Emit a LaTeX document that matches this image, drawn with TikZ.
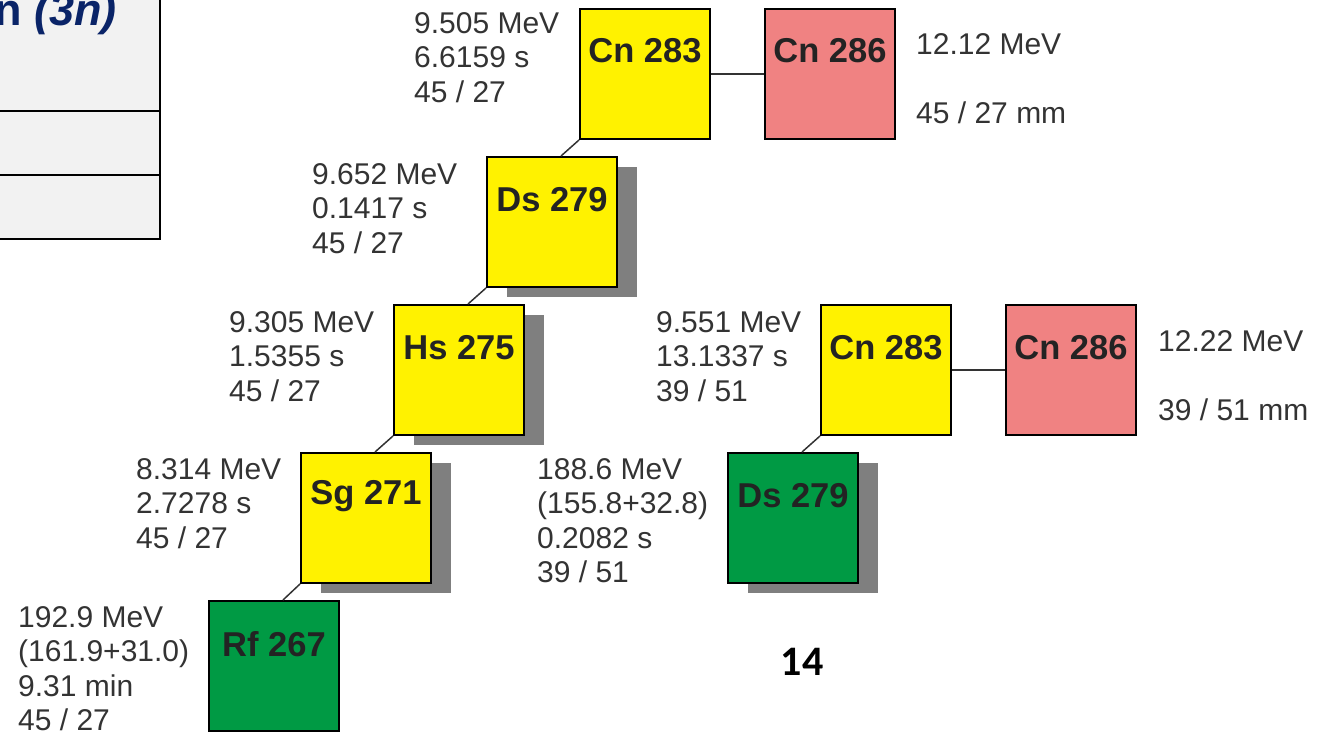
\documentclass[tikz,border=0pt]{standalone}
\usepackage{fontspec}
\setmainfont{Liberation Sans}
\newfontfamily\carl{Carlito}
\usetikzlibrary{shadows}
\definecolor{yel}{HTML}{FFF200}
\definecolor{pinkc}{HTML}{F08282}
\definecolor{greenc}{HTML}{009A44}
\definecolor{shadowc}{HTML}{7F7F7F}
\definecolor{txtc}{HTML}{333333}
\definecolor{lblc}{HTML}{232323}
\definecolor{navy}{HTML}{0A2468}
\definecolor{tablefill}{HTML}{F2F2F2}
\tikzset{
  nucbox/.style={draw=black, line width=2pt, minimum size=130pt, inner sep=0pt},
  shad/.style={drop shadow={shadow xshift=20pt, shadow yshift=-10pt, fill=shadowc, opacity=1}},
  lbl/.style={font=\fontsize{34.5}{38}\selectfont\bfseries, text=lblc, inner sep=0pt},
  info/.style={font=\fontsize{30}{34.5}\selectfont, text=txtc, align=left, anchor=north west, inner sep=0pt},
  conn/.style={draw=txtc, line width=1.5pt}
}
\begin{document}
\begin{tikzpicture}[x=1pt,y=-1pt]
\useasboundingbox (0,0) rectangle (1323,734);
\clip (0,0) rectangle (1323,734);
% table fragment
\fill[tablefill] (-10,-10) rectangle (160,239);
\draw[line width=2.5pt] (-10,239) -- (160,239) -- (160,-10);
\draw[line width=2pt] (-10,111) -- (160,111);
\draw[line width=2pt] (-10,175) -- (160,175);
\node[anchor=base east, inner sep=0pt, text=navy, font=\fontsize{45}{48}\selectfont\bfseries] (title) at (117,25) {n \textit{(3n)}};
% boxes
\node[nucbox, fill=yel] (cnA) at (645,74) {};
\node[nucbox, fill=pinkc] (cnB) at (830,74) {};
\node[nucbox, fill=yel, shad] (ds) at (552,222) {};
\node[nucbox, fill=yel, shad] (hs) at (459,370) {};
\node[nucbox, fill=yel, shad] (sg) at (366,518) {};
\node[nucbox, fill=greenc] (rf) at (274,666) {};
\node[nucbox, fill=yel] (cnC) at (886,370) {};
\node[nucbox, fill=pinkc] (cnD) at (1071,370) {};
\node[nucbox, fill=greenc, shad] (dsg) at (793,518) {};
% box labels
\node[lbl] (lcnA) at ([yshift=-43pt]cnA.north) {Cn 283};
\node[lbl] (lcnB) at ([yshift=-43pt]cnB.north) {Cn 286};
\node[lbl] (lds) at ([yshift=-44pt]ds.north) {Ds 279};
\node[lbl] (lhs) at ([yshift=-44pt]hs.north) {Hs 275};
\node[lbl] (lsg) at ([yshift=-44pt]sg.north) {Sg 271};
\node[lbl] (lrf) at ([yshift=-44pt]rf.north) {Rf 267};
\node[lbl] (lcnC) at ([yshift=-44pt]cnC.north) {Cn 283};
\node[lbl] (lcnD) at ([yshift=-44pt]cnD.north) {Cn 286};
\node[lbl] (ldsg) at ([yshift=-44pt]dsg.north) {Ds 279};
% connectors
\draw[conn] (cnA.east) -- (cnB.west);
\draw[conn] (cnC.east) -- (cnD.west);
\draw[conn] (cnA.south west) -- ([xshift=75pt]ds.north west);
\draw[conn] (ds.south west) -- ([xshift=75pt]hs.north west);
\draw[conn] (hs.south west) -- ([xshift=75pt]sg.north west);
\draw[conn] (sg.south west) -- ([xshift=75pt]rf.north west);
\draw[conn] (cnC.south west) -- ([xshift=75pt]dsg.north west);
% info texts
\node[info] (icnA) at (414,12) {9.505 MeV\\6.6159 s\\45 / 27};
\node[info] (icnB) at (916,33) {12.12 MeV\\[34.5pt]45 / 27 mm};
\node[info] (ids) at (312,163) {9.652 MeV\\0.1417 s\\45 / 27};
\node[info] (ihs) at (229,311) {9.305 MeV\\1.5355 s\\45 / 27};
\node[info] (isg) at (136,458) {8.314 MeV\\2.7278 s\\45 / 27};
\node[info] (irf) at (18,606) {192.9 MeV\\(161.9+31.0)\\9.31 min\\45 / 27};
\node[info] (icnC) at (656,311) {9.551 MeV\\13.1337 s\\39 / 51};
\node[info] (icnD) at (1158,330) {12.22 MeV\\[34.5pt]39 / 51 mm};
\node[info] (idsg) at (537,458) {188.6 MeV\\(155.8+32.8)\\0.2082 s\\39 / 51};
\node[inner sep=0pt, font=\carl\fontsize{42}{46}\selectfont\bfseries] (num) at (802,662) {14};
\end{tikzpicture}
\end{document}
